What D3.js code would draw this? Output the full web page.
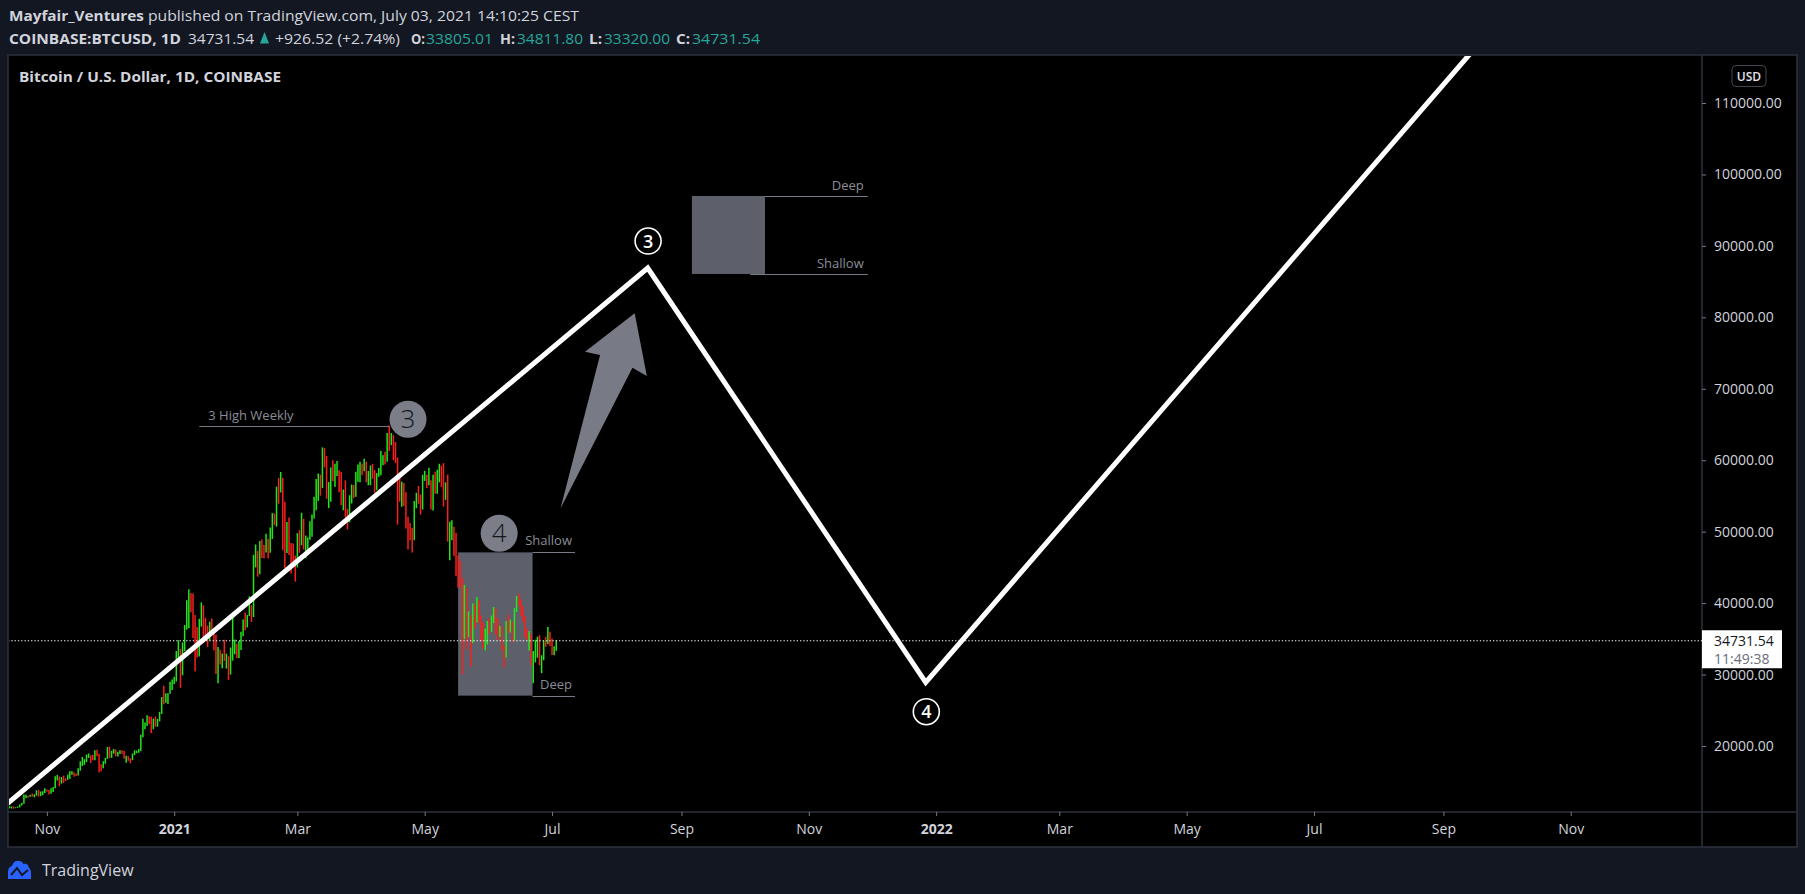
<!DOCTYPE html>
<html><head><meta charset="utf-8">
<script src="https://cdn.jsdelivr.net/npm/d3@7"></script>
<style>html,body{margin:0;padding:0;background:#131722;overflow:hidden}</style>
</head><body><svg id="c" width="1805" height="894"></svg>
<script>
// ---------- DATA ----------
const barStart = "2020-10-14";
const firstOpen = 11425;
const closes = [
11430,11505,11320,11370,11510,11750,11915,12820,12980,12930,13120,13030,13070,13650,13280,13460,13560,13800,
13760,13550,14020,14150,15590,15590,14840,15480,15330,15310,15700,16290,16330,16070,15960,16720,17660,17800,17820,18660,18700,18420,18370,19160,18740,17160,17140,17720,18180,19700,
18790,19230,19450,18690,19160,19380,19190,18330,18550,18260,18050,18810,19170,19280,19440,21350,22840,23120,23860,23480,22740,23830,23240,23730,24690,26480,26280,27040,27370,28880,28990,
29410,32200,33000,31990,33990,36820,39480,40670,40240,38240,35560,33920,37320,39150,36770,36010,35840,36630,35890,35490,30850,33010,32090,32280,32260,32510,30420,33420,34270,34300,33110,
33520,35510,37670,36930,38290,39260,38870,46450,46530,44850,48010,47410,47230,48660,47990,49150,52150,51580,55900,55890,57410,54090,48890,49690,47060,46290,46200,45140,
49600,48420,50380,48370,48750,48880,50970,52390,54880,55850,57800,57230,61180,59010,55630,56900,58910,57650,58030,58100,57350,54080,54340,52300,51300,55040,55820,55780,57620,58780,58800,
58740,58970,57090,58210,59120,57600,56150,58080,58100,59770,59980,59860,63580,62960,63220,61400,60030,56250,55700,56470,53800,51700,51190,50100,49070,54030,55040,54880,53580,57750,
57830,56630,57200,53240,57520,56430,57380,58930,58280,55860,56750,49500,49700,49930,46760,46430,43590,42910,37000,40730,37330,37540,34770,38850,38400,39290,38560,35680,34630,35680,37330,
36700,37580,39190,36880,35540,35800,33550,33400,37390,36690,37340,35550,39020,40520,40150,38350,38090,35820,35490,35600,31680,32510,33680,34660,31570,32270,34700,34500,35910,35040,
33540,33805.01,34731.54];
const highs = [
11560,11540,11540,11420,11530,11820,12030,13220,13180,13030,13160,13350,13250,13800,13860,13630,13670,14100,
13900,13830,14070,14250,15760,15960,15730,15660,15850,15480,15970,16480,16480,16330,16150,16880,17860,18480,18150,18800,18960,18700,18770,19420,19490,18920,17460,17880,18350,19860,
19920,19330,19590,19520,19180,19420,19410,19300,18640,18570,18290,18950,19400,19350,19570,21560,23800,23280,24300,24170,24100,23840,24130,23790,24780,26860,28420,27400,27400,28990,29300,
29690,33300,34800,33600,34500,36940,40400,41950,41380,41350,38330,36650,37800,40100,39700,37950,36850,37400,37850,36420,35600,33850,33460,32950,34880,32930,32560,33780,38550,34900,34320,
34700,35980,37700,38700,38330,40950,39700,46750,48200,47300,48680,48900,48150,49700,49000,50600,52600,52530,56300,57500,58350,57550,54180,51370,52000,48400,48350,46650,
49800,50200,52650,51800,49450,49200,51450,52400,54900,57370,58150,58000,61800,61700,60600,56950,58990,60000,59500,59900,58600,58400,55900,57200,53200,55100,56600,56550,58400,59400,59800,
59500,60200,59800,58500,59270,59500,58600,58200,58900,61300,60700,61200,63800,64850,63800,63550,62550,60400,57500,57000,56800,55500,52100,51200,50500,54300,55450,56400,55200,57950,
58500,57950,58950,57200,57950,58400,58650,59500,59250,59600,56900,58000,51400,51600,50700,49800,46650,45850,43550,42550,42200,38850,38300,39950,39800,40850,40400,38250,37300,36450,37500,
37900,38250,39450,39250,37900,36800,36800,34000,37500,38400,37700,37450,39300,41000,41300,40500,39550,38200,36450,36100,35750,33300,34880,35300,35500,32700,34750,35300,36650,36000,
35050,33950,34811.80];
const lows = [
11300,11250,11220,11300,11350,11410,11680,11900,12700,12740,12900,12900,12800,13050,12920,12990,13120,13430,
13620,13200,13300,13550,14100,15180,14350,14730,14830,15100,15280,15430,15980,15700,15800,15880,16550,17210,17360,17750,18330,17620,18000,18020,18560,16330,16460,16880,17520,18180,
18320,18340,18920,18580,18520,18890,18910,18200,17650,17920,17580,18020,18720,19000,19060,19290,21230,22350,22800,23070,21810,22350,22700,22700,23430,24500,25830,26050,25880,27330,27850,
28690,29030,32000,28130,29900,33290,36300,36500,38720,35110,30420,32400,32530,36700,34400,35380,33870,34750,35850,33400,30070,28800,31400,30900,31910,30830,29240,30000,31950,32850,32300,
32300,33420,35360,36200,36600,38200,37360,38050,45000,43700,44050,46300,46250,47100,46250,47050,48970,50930,50700,53900,55480,47400,44900,47020,46750,44150,45100,43000,
45000,47050,48100,47500,46300,47100,48880,49300,51840,53000,54300,55050,56100,59000,54600,53300,54200,57050,56300,57800,55500,53700,53000,52000,50300,51300,53950,54700,54900,57000,56900,
57900,58450,56900,56500,56500,57400,55450,55800,57700,57900,59300,59400,59800,61300,62100,60000,59600,51000,54200,53500,53600,50450,47500,48800,47100,48800,53300,53900,52400,53100,
57100,56100,56500,53100,52950,55300,55300,56900,56250,53500,54450,48600,46000,48800,46600,43800,42100,42300,30000,35000,33500,35250,31100,34400,36450,37300,37200,34700,33600,33400,34200,
35700,35950,37200,35600,34800,35250,33400,31000,32400,35800,35900,34600,34800,38750,39500,38150,37400,35150,34850,33350,31300,28800,31700,32350,31300,30200,32000,33900,34250,34000,
32750,32700,33320];

const priceTicks = [20000,30000,40000,50000,60000,70000,80000,90000,100000,110000];
const timeTicks = ["2020-11-01","2021-01-01","2021-03-01","2021-05-01","2021-07-01","2021-09-01","2021-11-01",
                   "2022-01-01","2022-03-01","2022-05-01","2022-07-01","2022-09-01","2022-11-01"];
const timeLabels = ["Nov","2021","Mar","May","Jul","Sep","Nov","2022","Mar","May","Jul","Sep","Nov"];

const lastPrice = 34731.54;
const waveLine = [["2020-10-10",11180],["2021-08-15T20:00Z",86900],["2021-12-27",28900],["2022-10-01",122700]];
const highWeekly = {label:"3 High Weekly", price:64850, from:"2021-01-13", to:"2021-04-14"};
const box4 = {from:"2021-05-17", to:"2021-06-21T16:00Z", lineEnd:"2021-07-12", shallow:47100, deep:27050};
const boxUp = {from:"2021-09-06", to:"2021-10-11", shallowFrom:"2021-10-04", lineEnd:"2021-11-29T06:00Z", deep:96990, shallow:86070};
const grayCircles = [{label:"3", date:"2021-04-23", price:65730},{label:"4", date:"2021-06-05T16:00Z", price:49770}];
const whiteCircles = [{label:"3", date:"2021-08-16", price:90680},{label:"4", date:"2021-12-27T07:00Z", price:24800}];
const arrowPts = [["2021-07-05T02:00Z",53270],["2021-07-24",74730],["2021-07-16T19:00Z",75190],
                  ["2021-08-09T14:00Z",80565],["2021-08-15T10:00Z",71790],["2021-08-08T12:00Z",72950]];

// ---------- SETUP ----------
const svg = d3.select("#c");
const F = "'Open Sans', 'DejaVu Sans', sans-serif";
const pd = s => new Date(s.length===10 ? s+"T00:00:00Z" : s);
const L = 8, R = 1702, T = 55, B = 812, RR = 1797, BB = 847;
const x = d3.scaleUtc().domain([new Date(Date.UTC(2020,9,13,9)), new Date(Date.UTC(2023,0,2,21))]).range([L,R]);
const y = d3.scaleLinear().domain([10762,116719]).range([B,T]);

// frame
svg.append("rect").attr("x",L).attr("y",T).attr("width",RR-L).attr("height",BB-T).attr("fill","#000")
   .attr("stroke","#2e323e").attr("stroke-width",1.5);
svg.append("line").attr("x1",R).attr("x2",R).attr("y1",T).attr("y2",BB).attr("stroke","#2e323e").attr("stroke-width",1.5);
svg.append("line").attr("x1",L).attr("x2",RR).attr("y1",B).attr("y2",B).attr("stroke","#2e323e").attr("stroke-width",1.5);

// header
const hdr = [
 {t:"Mayfair_Ventures", x:9, y:21, w:135, b:true, c:"#d1d4dc"},
 {t:"published on TradingView.com, July 03, 2021 14:10:25 CEST", x:148, y:21, w:431, b:false, c:"#d1d4dc"},
 {t:"COINBASE:BTCUSD, 1D", x:9, y:44, w:172, b:true, c:"#d1d4dc"},
 {t:"34731.54", x:188, y:44, w:66, b:false, c:"#d1d4dc"},
 {t:"+926.52 (+2.74%)", x:275, y:44, w:125, b:false, c:"#d1d4dc"},
 {t:"O:", x:411, y:44, w:14, b:true, c:"#d1d4dc"},
 {t:"33805.01", x:426, y:44, w:67, b:false, c:"#26a69a"},
 {t:"H:", x:500, y:44, w:15, b:true, c:"#d1d4dc"},
 {t:"34811.80", x:517, y:44, w:66, b:false, c:"#26a69a"},
 {t:"L:", x:589, y:44, w:13, b:true, c:"#d1d4dc"},
 {t:"33320.00", x:604, y:44, w:66, b:false, c:"#26a69a"},
 {t:"C:", x:676, y:44, w:14, b:true, c:"#d1d4dc"},
 {t:"34731.54", x:692, y:44, w:68, b:false, c:"#26a69a"}
];
svg.selectAll("text.hdr").data(hdr).join("text").attr("class","hdr")
  .attr("x",d=>d.x).attr("y",d=>d.y).attr("textLength",d=>d.w).attr("lengthAdjust","spacingAndGlyphs")
  .attr("font-family",F).attr("font-size",15).attr("font-weight",d=>d.b?700:400).attr("fill",d=>d.c).text(d=>d.t);
svg.append("path").attr("d","M260,43.5 L269,43.5 L264.5,32 Z").attr("fill","#26a69a");

// plot clip
svg.append("clipPath").attr("id","pc").append("rect").attr("x",L+1).attr("y",T+1).attr("width",R-L-1).attr("height",B-T-1);
const g = svg.append("g").attr("clip-path","url(#pc)");

// title
svg.append("text").attr("x",19).attr("y",82).attr("textLength",262).attr("lengthAdjust","spacingAndGlyphs")
  .attr("font-family",F).attr("font-size",14).attr("font-weight",700).attr("fill","#d1d4dc")
  .text("Bitcoin / U.S. Dollar, 1D, COINBASE");

// gray boxes (under bars)
g.append("rect").attr("x",x(pd(box4.from))).attr("y",y(box4.shallow))
  .attr("width",x(pd(box4.to))-x(pd(box4.from))).attr("height",y(box4.deep)-y(box4.shallow)).attr("fill","#5d606b");
g.append("rect").attr("x",x(pd(boxUp.from))).attr("y",y(boxUp.deep))
  .attr("width",x(pd(boxUp.to))-x(pd(boxUp.from))).attr("height",y(boxUp.shallow)-y(boxUp.deep)).attr("fill","#5d606b");

// bars
const bars = closes.map((c,i)=>{
  const d = new Date(pd(barStart).getTime()+i*864e5);
  const o = i===0 ? firstOpen : closes[i-1];
  return {d, o, c, h:highs[i], l:lows[i]};
});
g.selectAll("line.bar").data(bars).join("line").attr("class","bar")
  .attr("x1",d=>x(d.d)).attr("x2",d=>x(d.d)).attr("y1",d=>y(d.h)).attr("y2",d=>y(d.l))
  .attr("stroke",d=>d.c>=d.o?"#22e51c":"#f7201c").attr("stroke-width",1.5);

// annotation lines
const lineC = "#787b86";
function hline(from,to,p){ g.append("line").attr("x1",x(pd(from))).attr("x2",x(pd(to))).attr("y1",Math.round(y(p))+0.5).attr("y2",Math.round(y(p))+0.5).attr("stroke",lineC).attr("stroke-width",1); }
hline(highWeekly.from, highWeekly.to, highWeekly.price);
hline(box4.to, box4.lineEnd, box4.shallow);
hline(box4.to, box4.lineEnd, box4.deep);
hline(boxUp.to, boxUp.lineEnd, boxUp.deep);
hline(boxUp.shallowFrom, boxUp.lineEnd, boxUp.shallow);

const annF = {family:F, size:13, fill:"#8a8d97"};
function atext(t, xx, yy, anchor){
  g.append("text").attr("x",xx).attr("y",yy).attr("text-anchor",anchor).attr("font-family",annF.family)
   .attr("font-size",annF.size).attr("fill",annF.fill).text(t);
}
atext(highWeekly.label, x(pd(highWeekly.from))+9, y(highWeekly.price)-6, "start");
atext("Shallow", x(pd(box4.lineEnd))-3, y(box4.shallow)-7, "end");
atext("Deep", x(pd(box4.lineEnd))-3, y(box4.deep)-7, "end");
atext("Deep", x(pd(boxUp.lineEnd))-4, y(boxUp.deep)-6, "end");
atext("Shallow", x(pd(boxUp.lineEnd))-4, y(boxUp.shallow)-6, "end");

// arrow
g.append("path").attr("d", d3.line().x(p=>x(pd(p[0]))).y(p=>y(p[1]))(arrowPts)+"Z").attr("fill","#787b86");

// wave line
g.append("path").attr("d", d3.line().x(p=>x(pd(p[0]))).y(p=>y(p[1]))(waveLine))
  .attr("fill","none").attr("stroke","#ffffff").attr("stroke-width",5).attr("stroke-linejoin","miter");

// gray circles
const gc = g.selectAll("g.gc").data(grayCircles).join("g").attr("class","gc")
  .attr("transform",d=>`translate(${x(pd(d.date))},${y(d.price)})`);
gc.append("circle").attr("r",18.5).attr("fill","#7b7e89");
gc.append("text").attr("y",9).attr("text-anchor","middle").attr("font-family",F).attr("font-size",26)
  .attr("font-weight",300).attr("fill","#131722").text(d=>d.label);

// white circles
const wc = g.selectAll("g.wc").data(whiteCircles).join("g").attr("class","wc")
  .attr("transform",d=>`translate(${x(pd(d.date))},${y(d.price)})`);
wc.append("circle").attr("r",13).attr("fill","none").attr("stroke","#fff").attr("stroke-width",1.6);
wc.append("text").attr("y",6.5).attr("text-anchor","middle").attr("font-family",F).attr("font-size",18)
  .attr("font-weight",600).attr("fill","#fff").text(d=>d.label);

// last price dotted line
g.append("line").attr("x1",L).attr("x2",R).attr("y1",y(lastPrice)).attr("y2",y(lastPrice))
  .attr("stroke","#fff").attr("stroke-width",1).attr("stroke-dasharray","1.3,2");

// price axis
const ya = svg.append("g").attr("transform",`translate(${R},0)`)
  .call(d3.axisRight(y).tickValues(priceTicks).tickSize(4).tickPadding(8).tickFormat(d=>d3.format(".2f")(d)));
ya.select(".domain").remove();
ya.selectAll(".tick line").attr("stroke","#787b86");
ya.selectAll(".tick text").attr("font-family",F).attr("font-size",14).attr("fill","#d1d4dc");

// last price label
svg.append("rect").attr("x",R).attr("y",y(lastPrice)-10.5).attr("width",80).attr("height",38).attr("fill","#fff");
svg.append("text").attr("x",R+12).attr("y",y(lastPrice)+5).attr("font-family",F).attr("font-size",14).attr("fill","#131722").text(d3.format(".2f")(lastPrice));
svg.append("text").attr("x",R+12).attr("y",y(lastPrice)+23).attr("font-family",F).attr("font-size",14).attr("fill","#6a6d78").text("11:49:38");

// USD box
svg.append("rect").attr("x",1732).attr("y",65.5).attr("width",34).attr("height",21).attr("rx",4)
  .attr("fill","#000").attr("stroke","#434651");
svg.append("text").attr("x",1749).attr("y",80.5).attr("text-anchor","middle").attr("font-family",F)
  .attr("font-size",12).attr("font-weight",600).attr("fill","#e0e3eb").text("USD");

// time axis
const xa = svg.append("g").attr("transform",`translate(0,${B})`)
  .call(d3.axisBottom(x).tickValues(timeTicks.map(pd)).tickSize(4).tickPadding(8)
        .tickFormat((d,i)=>timeLabels[i]));
xa.select(".domain").remove();
xa.selectAll(".tick line").attr("stroke","#787b86");
xa.selectAll(".tick text").attr("font-family",F).attr("font-size",14).attr("fill","#d1d4dc")
  .attr("font-weight",(d,i)=>/^\d{4}$/.test(timeLabels[i])?700:400);

// TradingView logo
const lg = svg.append("g").attr("transform","translate(8,860)");
lg.append("path").attr("d","M0,19 L0,12 Q0,7 4,6 Q6,0 11,1 Q14,1 15.5,4 Q20,3 21,8 Q23,9 23,13 L23,19 Z").attr("fill","#2962ff");
lg.append("path").attr("d","M3,15 L9,8 L14,15 L20,10").attr("fill","none").attr("stroke","#131722").attr("stroke-width",2);
svg.append("text").attr("x",42).attr("y",876).attr("font-family",F).attr("font-size",16).attr("fill","#d1d4dc").text("TradingView");
</script></body></html>
